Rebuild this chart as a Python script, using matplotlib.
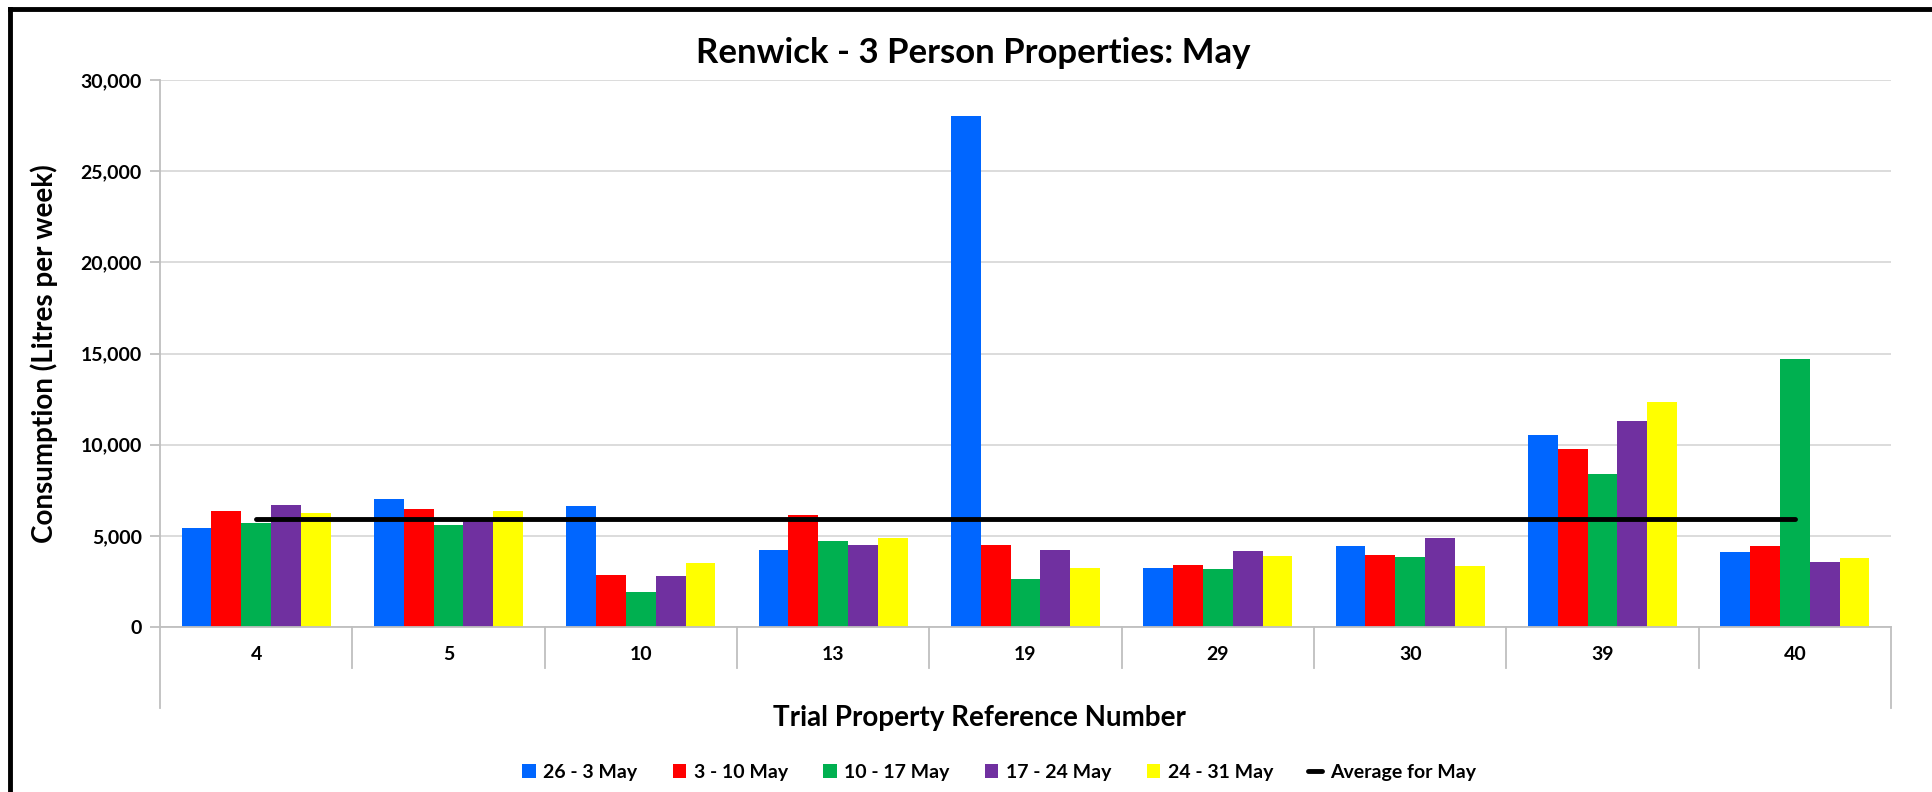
import numpy as np
import matplotlib.pyplot as plt
from matplotlib.ticker import FuncFormatter

# Datos
properties = ["4", "5", "10", "13", "19", "29", "30", "39", "40"]
weeks = ["26 - 3 May", "3 - 10 May", "10 - 17 May", "17 - 24 May", "24 - 31 May"]
w1 = [5450, 7000, 6640, 4230, 28040, 3240, 4430, 10550, 4120]
w2 = [6370, 6480, 2850, 6120, 4510, 3380, 3930, 9770, 4430]
w3 = [5700, 5590, 1910, 4710, 2630, 3180, 3820, 8390, 14720]
w4 = [6700, 5920, 2800, 4510, 4230, 4150, 4870, 11320, 3540]
w5 = [6230, 6390, 3490, 4900, 3240, 3900, 3350, 12340, 3790]
may_average = 5950

colors = ["#0066FF", "#FF0000", "#00B050", "#7030A0", "#FFFF00"]
grid_col = "#D9D9D9"
axis_col = "#BFBFBF"

plt.rcParams['font.family'] = ['Lato', 'DejaVu Sans']
plt.rcParams['font.weight'] = 'bold'

fig = plt.figure(figsize=(19.32, 7.92), dpi=100)
ax = fig.add_axes([0.0828, 0.2083, 0.8960, 0.6907])

x = np.arange(len(properties))
width = 0.155
series = [w1, w2, w3, w4, w5]
handles = []
for i, (vals, lab) in enumerate(zip(series, weeks)):
    b = ax.bar(x + (i - 2) * width, vals, width, color=colors[i], label=lab, zorder=2)
    handles.append(b)

avg_line, = ax.plot(x, [may_average] * len(x), color="black", lw=3.5, label="Average for May",
                    zorder=3, solid_capstyle="round")
handles.append(avg_line)

ax.set_xlim(-0.5, len(properties) - 0.5)
ax.set_ylim(0, 30000)
ax.set_yticks(np.arange(0, 30001, 5000))
ax.yaxis.set_major_formatter(FuncFormatter(lambda v, p: f"{int(v):,}"))
ax.grid(axis="y", color=grid_col, lw=1.3, zorder=0)
ax.set_axisbelow(True)

for s in ["top", "right"]:
    ax.spines[s].set_visible(False)
ax.spines["left"].set_color(axis_col)
ax.spines["bottom"].set_color(axis_col)
ax.spines["left"].set_linewidth(1.3)
ax.spines["bottom"].set_linewidth(1.3)
ax.tick_params(axis="y", length=7, color=axis_col, width=1.3, labelsize=14, pad=6)
ax.tick_params(axis="x", length=0, labelsize=14, pad=14)
ax.set_xticks(x)
ax.set_xticklabels(properties, fontweight="bold")
for t in ax.get_yticklabels():
    t.set_fontweight("bold")

# separadores del eje de categorias (dos niveles, como Excel)
trans = ax.get_xaxis_transform()
edges = np.arange(len(properties) + 1) - 0.5
for k, e in enumerate(edges):
    low = -0.148 if k in (0, len(edges) - 1) else -0.075
    ax.plot([e, e], [0, low], color=axis_col, lw=1.3, transform=trans, clip_on=False)

# titulos centrados sobre la figura (como en Excel)
fig.text(0.504, 0.933, "Renwick - 3 Person Properties: May", fontsize=25, fontweight="bold",
         ha="center", va="center")
fig.text(0.507, 0.093, "Trial Property Reference Number", fontsize=20, fontweight="bold",
         ha="center", va="center")
ax.set_ylabel("Consumption (Litres per week)", fontsize=20, fontweight="bold", labelpad=16)

leg = fig.legend(handles=handles, loc="lower center", bbox_to_anchor=(0.517, -0.008), ncol=6,
                 frameon=False, fontsize=14, handlelength=0.7, handleheight=0.7,
                 handletextpad=0.4, columnspacing=1.8)
for t in leg.get_texts():
    t.set_fontweight("bold")

# marco (solo se ven los bordes superior e izquierdo)
fig.add_artist(plt.Line2D([0.0052, 0.0052], [0, 0.989], color="black", lw=3.5,
                          transform=fig.transFigure))
fig.add_artist(plt.Line2D([0.0052, 1], [0.989, 0.989], color="black", lw=3.5,
                          transform=fig.transFigure))

fig.savefig("out.png", dpi=100)
